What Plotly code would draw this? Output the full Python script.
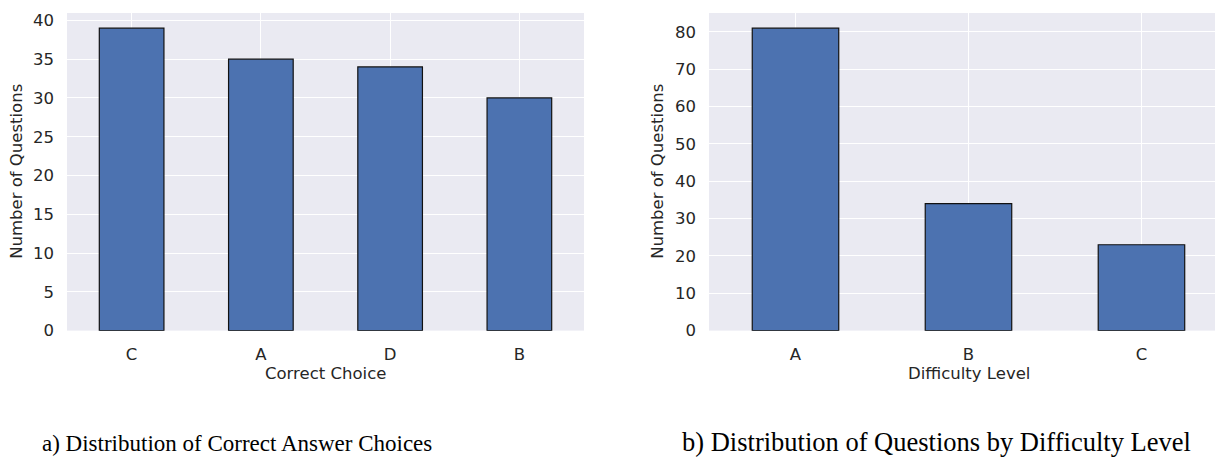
import plotly.graph_objects as go

choice_cats = ["C", "A", "D", "B"]
choice_counts = [39, 35, 34, 30]
level_cats = ["A", "B", "C"]
level_counts = [81, 34, 23]

left_ticks = [0, 5, 10, 15, 20, 25, 30, 35, 40]
right_ticks = [0, 10, 20, 30, 40, 50, 60, 70, 80]

BAR = "#4C72B0"
BG = "#EAEAF2"
TXT = "#262626"
FONT = "DejaVu Sans"

W, H = 1215, 457
# pixel offset correction so the drawn rows line up with the reference rows
S, O = 1 / 0.975, -2.0


def py(pix):
    """paper y fraction for a pixel row measured from the top"""
    return 1 - (pix * S + O) / H


fig = go.Figure()
fig.add_trace(go.Bar(x=choice_cats, y=choice_counts, marker=dict(color=BAR, line=dict(color="#111111", width=1.2)),
                     xaxis="x", yaxis="y", width=0.5))
fig.add_trace(go.Bar(x=level_cats, y=level_counts, marker=dict(color=BAR, line=dict(color="#111111", width=1.2)),
                     xaxis="x2", yaxis="y2", width=0.5))

axis_common = dict(showgrid=True, gridcolor="white", gridwidth=1.3, zeroline=False, showline=False,
                   tickfont=dict(family=FONT, size=16.5, color=TXT), ticks="")

fig.update_layout(
    width=W, height=H, margin=dict(l=0, r=0, t=0, b=0), autosize=False,
    paper_bgcolor="white", plot_bgcolor=BG, showlegend=False,
    xaxis=dict(domain=[67 / W, 584 / W], anchor="y", type="category", range=[-0.5, 3.5],
               ticklabelstandoff=12, **axis_common),
    yaxis=dict(domain=[py(331), py(13)], anchor="x", range=[0, 40.95], tickvals=left_ticks,
               ticklabelstandoff=12, **axis_common),
    xaxis2=dict(domain=[709 / W, 1.0], anchor="y2", type="category", range=[-0.5, 2.5 - 13 / 173.5],
                ticklabelstandoff=12, **axis_common),
    yaxis2=dict(domain=[py(331), py(13)], anchor="x2", range=[0, 85.05], tickvals=right_ticks,
                ticklabelstandoff=12, **axis_common),
)

ann_font = dict(family=FONT, size=16.5, color=TXT)
fig.add_annotation(x=(67 + 584) / 2 / W, y=py(374), xref="paper", yref="paper", text="Correct Choice",
                   showarrow=False, font=ann_font, xanchor="center", yanchor="middle")
fig.add_annotation(x=(709 + 1228) / 2 / W, y=py(374), xref="paper", yref="paper", text="Difficulty Level",
                   showarrow=False, font=ann_font, xanchor="center", yanchor="middle")
fig.add_annotation(x=17 / W, y=py(172), xref="paper", yref="paper", text="Number of Questions",
                   showarrow=False, font=ann_font, textangle=-90, xanchor="center", yanchor="middle")
fig.add_annotation(x=658 / W, y=py(172), xref="paper", yref="paper", text="Number of Questions",
                   showarrow=False, font=ann_font, textangle=-90, xanchor="center", yanchor="middle")

fig.add_annotation(x=237 / W, y=py(444), xref="paper", yref="paper",
                   text="a) Distribution of Correct Answer Choices", showarrow=False,
                   font=dict(family="Liberation Serif", size=23, color="black"),
                   xanchor="center", yanchor="middle")
fig.add_annotation(x=936 / W, y=py(443), xref="paper", yref="paper",
                   text="b) Distribution of Questions by Difficulty Level", showarrow=False,
                   font=dict(family="Liberation Serif", size=26.5, color="black"),
                   xanchor="center", yanchor="middle")

fig.write_html("out.html", config={"displayModeBar": False},
               post_script="document.body.style.margin='0';document.body.style.overflow='hidden';")
